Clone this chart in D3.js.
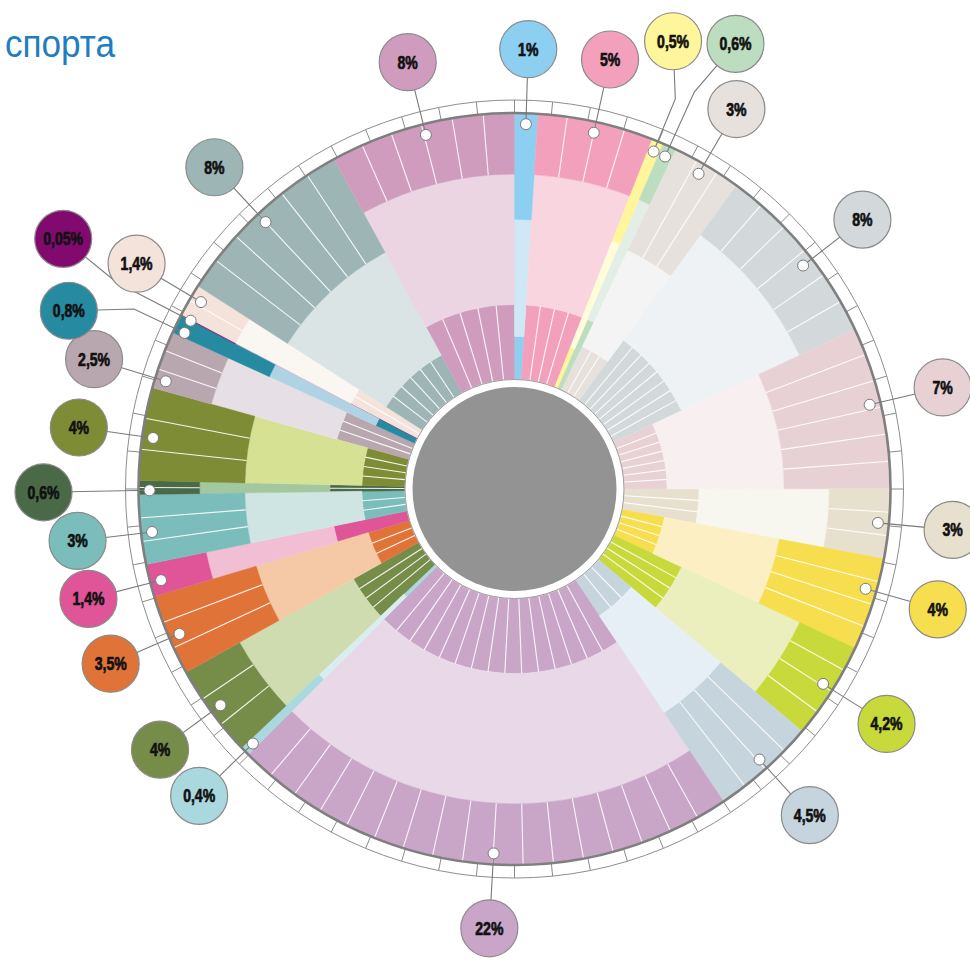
<!DOCTYPE html>
<html>
<head>
<meta charset="utf-8">
<script src="https://cdn.jsdelivr.net/npm/d3@7/dist/d3.min.js"></script>
<style>
  body { margin: 0; background: #fff; }
  svg { display: block; }
  .title { font-family: "Liberation Sans", Arial, sans-serif; font-size: 38px; fill: #1f7dc1; }
  .pct { font-family: "Liberation Sans", Arial, sans-serif; font-weight: bold; font-size: 18px; fill: #111; stroke: #111; stroke-width: 0.7px; }
</style>
</head>
<body>
<div id="chart"></div>
<script>
// share of each group, clockwise from 12 o'clock
var labels = ["1%", "5%", "0,5%", "0,6%", "3%", "8%", "7%", "3%", "4%", "4,2%", "4,5%", "22%", "0,4%",
              "4%", "3,5%", "1,4%", "3%", "0,6%", "4%", "2,5%", "0,8%", "0,05%", "1,4%", "8%", "8%"];
var shares = [1, 5, 0.5, 0.6, 3, 8, 7, 3, 4, 4.2, 4.5, 22, 0.4,
              4, 3.5, 1.4, 3, 0.6, 4, 2.5, 0.8, 0.05, 1.4, 8, 8];
// depth of the inner and outer rings (0 = hub, 100 = rim)
var innerDepth = [16, 28, 16, 28, 18, 28, 16, 28, 16, 28, 16, 28, 16,
                  28, 16, 28, 16, 28, 16, 28, 16, 28, 28, 16, 28];
var outerDepth = [60, 77, 59, 77, 58, 77, 60, 77, 60, 77, 60, 77, 60,
                  77, 60, 77, 60, 77, 60, 77, 60, 77, 77, 60, 77];
// number of sub-bars in the outer and inner rings
var outerBars = [1, 4, 1, 1, 3, 6, 6, 3, 4, 4, 4, 17, 1, 3, 3, 1, 3, 2, 3, 3, 1, 1, 2, 6, 6];
var innerBars = [1, 4, 1, 1, 3, 8, 7, 3, 4, 4, 3, 15, 1, 4, 3, 1, 3, 2, 4, 3, 1, 1, 2, 6, 5];

var darkColors = ["#8dcff0", "#f3a0bd", "#fff59a", "#bdddc0", "#e6e1dd", "#d3d9db", "#e8d1d5", "#e8e0ce",
                  "#f7de4f", "#c8da3b", "#c5d4dd", "#c9a5c8", "#a9d8de", "#758d49", "#e07438", "#df5597",
                  "#7bbdba", "#4a6a47", "#7f8c36", "#b9a7af", "#268ba0", "#820a6f", "#f4e3da", "#9db5b5", "#d09cbe"];
var lightColors = ["#cfe8f6", "#f9d5e0", "#fffcda", "#e3efe6", "#f4f4f4", "#eef2f5", "#f7eff0", "#f7f6ef",
                   "#fdefc4", "#eaefbd", "#e7eff6", "#e8d8e8", "#d8edf0", "#cfdcb0", "#f5c9a5", "#f2bed3",
                   "#cfe5e3", "#a3c79e", "#d6e194", "#e6e0e6", "#b0d3e3", "#d7a9ce", "#faf7f3", "#dae4e5", "#ecd5e3"];

// where the marker sits inside its slice (0..1)
var dotPos = [0.5, 0.5, 0.5, 0.5, 0.45, 0.56, 0.47, 0.5, 0.36, 0.48, 0.48, 0.47, 0.5,
              0.5, 0.46, 0.43, 0.45, 0.3, 0.47, 0.17, 0.25, 0, 0.63, 0.5, 0.51];
// crowded labels get pushed out (angle in degrees, distance, bend of the leader)
var labelShift = {
  2: {a: 19.5, r: 475, bend: 422},
  3: {a: 26.4, r: 497, bend: 436},
  17: {a: 269.6, r: 471},
  20: {a: 291.8, r: 480, bend: 421},
  21: {a: 299, r: 516, bend: 449}
};

var svgWidth = 970, svgHeight = 958;
var cx = 514.5, cy = 489;

var svg = d3.select("#chart").append("svg")
  .attr("width", svgWidth)
  .attr("height", svgHeight);

svg.append("text")
  .attr("class", "title")
  .attr("x", 5)
  .attr("y", 57)
  .attr("textLength", 110)
  .attr("lengthAdjust", "spacingAndGlyphs")
  .text("спорта");

var g = svg.append("g").attr("transform", `translate(${cx}, ${cy})`);

var rScale = d3.scaleLinear().domain([0, 100]).range([110, 376]);
var slices = d3.pie().sort(null).value(d => d)(shares);

function polar(a, r) { return [r * Math.sin(a), -r * Math.cos(a)]; }

// the three rings of every slice
var bands = [
  {from: i => 0, to: i => innerDepth[i], fill: i => darkColors[i]},
  {from: i => innerDepth[i], to: i => outerDepth[i], fill: i => lightColors[i]},
  {from: i => outerDepth[i], to: i => 100, fill: i => darkColors[i]}
];
bands.forEach(function(b) {
  g.append("g").selectAll("path")
    .data(slices)
    .enter()
    .append("path")
    .attr("d", (d, i) => d3.arc().innerRadius(rScale(b.from(i))).outerRadius(rScale(b.to(i)))(d))
    .attr("fill", (d, i) => b.fill(i))
    .attr("stroke", (d, i) => b.fill(i))
    .attr("stroke-width", 0.4);
});

// white lines splitting the rings into sub-bars
var splits = [];
slices.forEach(function(d, i) {
  var span = d.endAngle - d.startAngle;
  for (var k = 1; k < outerBars[i]; k++)
    splits.push({a: d.startAngle + span * k / outerBars[i], r0: rScale(outerDepth[i]), r1: rScale(100)});
  for (var k = 1; k < innerBars[i]; k++)
    splits.push({a: d.startAngle + span * k / innerBars[i], r0: rScale(0), r1: rScale(innerDepth[i])});
});
g.append("g").selectAll("line")
  .data(splits)
  .enter()
  .append("line")
  .attr("x1", d => polar(d.a, d.r0)[0])
  .attr("y1", d => polar(d.a, d.r0)[1])
  .attr("x2", d => polar(d.a, d.r1)[0])
  .attr("y2", d => polar(d.a, d.r1)[1])
  .attr("stroke", "#fff")
  .attr("stroke-width", 1.1)
  .attr("stroke-opacity", 0.9);

// hub
g.append("circle").attr("r", 109.5).attr("fill", "#fff").attr("stroke", "#9a9a9a").attr("stroke-width", 1);
g.append("circle").attr("r", 102).attr("fill", "#939393");

// rim with its scale
var rimOut = 389;
g.append("g").selectAll("line")
  .data(d3.range(64))
  .enter()
  .append("line")
  .attr("x1", d => polar(d * Math.PI / 32, rScale(100))[0])
  .attr("y1", d => polar(d * Math.PI / 32, rScale(100))[1])
  .attr("x2", d => polar(d * Math.PI / 32, rimOut)[0])
  .attr("y2", d => polar(d * Math.PI / 32, rimOut)[1])
  .attr("stroke", "#8a8a8a")
  .attr("stroke-width", 1);
g.append("circle").attr("r", rimOut).attr("fill", "none").attr("stroke", "#8e8e8e").attr("stroke-width", 1);
g.append("circle").attr("r", rScale(100)).attr("fill", "none").attr("stroke", "#7f7f7f").attr("stroke-width", 2.6);

// markers, leaders and bubbles
var dotR = 365, bubbleR = 440;
var marks = slices.map(function(d, i) {
  var a = d.startAngle + (d.endAngle - d.startAngle) * dotPos[i];
  var s = labelShift[i];
  var la = s ? s.a * Math.PI / 180 : a;
  var lr = s ? s.r : bubbleR;
  var pts = [polar(a, dotR)];
  if (s && s.bend) pts.push(polar(a, s.bend));
  pts.push(polar(la, lr));
  return {i: i, dot: pts[0], pts: pts, at: pts[pts.length - 1]};
});

g.append("g").selectAll("path")
  .data(marks)
  .enter()
  .append("path")
  .attr("d", d => d3.line()(d.pts))
  .attr("fill", "none")
  .attr("stroke", "#7a7a7a")
  .attr("stroke-width", 1.1);

g.append("g").selectAll("circle")
  .data(marks)
  .enter()
  .append("circle")
  .attr("cx", d => d.dot[0])
  .attr("cy", d => d.dot[1])
  .attr("r", 5.5)
  .attr("fill", "#fff")
  .attr("stroke", "#7a7a7a")
  .attr("stroke-width", 1);

var bubbles = g.append("g").selectAll("g")
  .data(marks)
  .enter()
  .append("g")
  .attr("transform", d => `translate(${d.at[0]}, ${d.at[1]})`);

bubbles.append("circle")
  .attr("r", 28.5)
  .attr("fill", d => darkColors[d.i])
  .attr("stroke", "#8a8a8a")
  .attr("stroke-width", 1.2);

bubbles.append("text")
  .attr("class", "pct")
  .attr("text-anchor", "middle")
  .attr("dy", "0.36em")
  .attr("transform", "scale(0.78, 1)")
  .text(d => labels[d.i]);
</script>
</body>
</html>
